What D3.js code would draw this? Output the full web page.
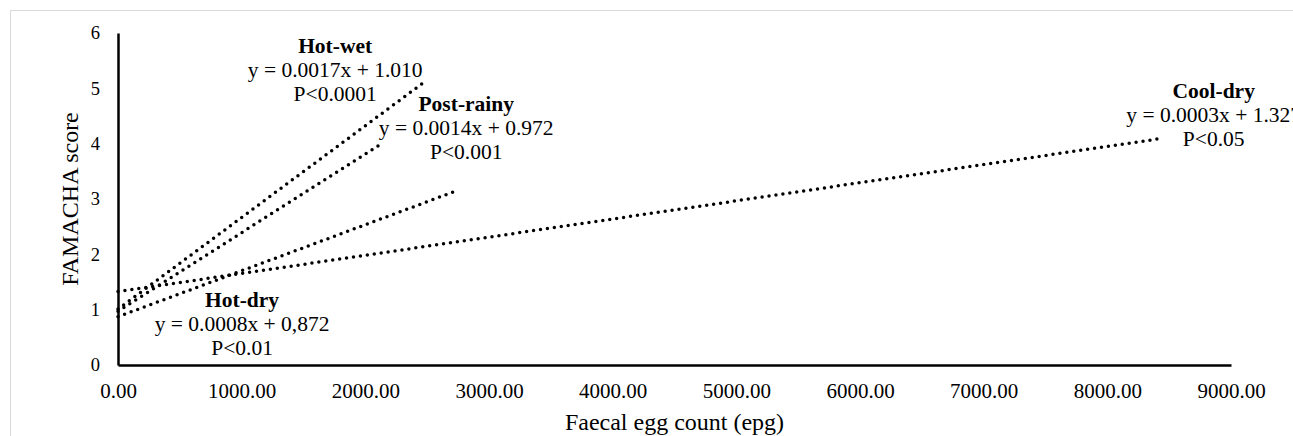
<!DOCTYPE html>
<html>
<head>
<meta charset="utf-8">
<script src="https://cdn.jsdelivr.net/npm/d3@7"></script>
<style>
  html, body { margin: 0; padding: 0; background: #fff; }
  svg, svg text { font-family: "Times New Roman", "Liberation Serif", Times, serif; }
</style>
</head>
<body>
<svg id="chart" width="1293" height="436"></svg>
<script>
// Seasons and their fitted lines (start / end of each trend line)
const seasons = ["Hot-wet", "Post-rainy", "Hot-dry", "Cool-dry"];
const startFec = [0, 0, 0, 0];
const startScore = [1.010, 0.972, 0.872, 1.327];
const endFec = [2468, 2104, 2751, 8455];
const endScore = [5.10, 3.96, 3.16, 4.10];
const equations = [
    "y = 0.0017x + 1.010",
    "y = 0.0014x + 0.972",
    "y = 0.0008x + 0,872",
    "y = 0.0003x + 1.327"
];
const pValues = ["P<0.0001", "P<0.001", "P<0.01", "P<0.05"];

// Axis ticks
const xTicks = [0, 1000, 2000, 3000, 4000, 5000, 6000, 7000, 8000, 9000];
const yTicks = [0, 1, 2, 3, 4, 5, 6];

// Where each label block sits (data units: centre x, first baseline y)
const labelAt = [[1756, 5.64], [2816, 4.59], [1003, 1.05], [8860, 4.83]];

const serif = '"Times New Roman", "Liberation Serif", Times, serif';
const svg = d3.select("#chart");

// Chart area border (runs off the right and bottom edges)
svg.append("rect")
    .attr("x", 10.5).attr("y", 10.5)
    .attr("width", 1300).attr("height", 440)
    .attr("fill", "none")
    .attr("stroke", "#d9d9d9")
    .attr("stroke-width", 1);

const x = d3.scaleLinear().domain([0, 9000]).range([118, 1231]);
const y = d3.scaleLinear().domain([0, 6]).range([365, 33]);

// X axis
const gx = svg.append("g")
    .attr("transform", `translate(0,${y(0)})`)
    .call(d3.axisBottom(x)
        .tickValues(xTicks)
        .tickFormat(d3.format(".2f"))
        .tickSize(0)
        .tickSizeOuter(0));
gx.attr("font-family", serif);
gx.select(".domain").attr("stroke", "#000").attr("stroke-width", 2.5);
gx.selectAll(".tick text")
    .attr("y", 33).attr("dy", null)
    .style("font-size", "21px")
    .attr("fill", "#000");

// Y axis
const gy = svg.append("g")
    .attr("transform", `translate(${x(0)},0)`)
    .call(d3.axisLeft(y)
        .tickValues(yTicks)
        .tickFormat(d3.format("d"))
        .tickSize(0)
        .tickSizeOuter(0)
        .tickPadding(18));
gy.attr("font-family", serif);
gy.select(".domain").attr("stroke", "#000").attr("stroke-width", 2.5);
gy.selectAll(".tick text")
    .style("font-size", "18.5px")
    .attr("fill", "#000");

// Axis titles
svg.append("text")
    .attr("x", (x.range()[0] + x.range()[1]) / 2)
    .attr("y", 430)
    .attr("text-anchor", "middle")
    .style("font-size", "24px")
    .text("Faecal egg count (epg)");

svg.append("text")
    .attr("transform", `translate(78,${(y.range()[0] + y.range()[1]) / 2}) rotate(-90)`)
    .attr("text-anchor", "middle")
    .style("font-size", "24px")
    .text("FAMACHA score");

// Dotted trend lines
const line = d3.line().x(d => x(d[0])).y(d => y(d[1]));
seasons.forEach((s, i) => {
    svg.append("path")
        .datum([[startFec[i], startScore[i]], [endFec[i], endScore[i]]])
        .attr("d", line)
        .attr("fill", "none")
        .attr("stroke", "#000")
        .attr("stroke-width", 3.5)
        .attr("stroke-linecap", "round")
        .attr("stroke-dasharray", "0 7");
});

// Labels: season, equation, significance
seasons.forEach((s, i) => {
    const cx = x(labelAt[i][0]);
    const by = y(labelAt[i][1]);
    const t = svg.append("text")
        .attr("text-anchor", "middle")
        .style("font-size", "21.5px");
    t.append("tspan").attr("x", cx).attr("y", by)
        .style("font-weight", "bold").text(s);
    t.append("tspan").attr("x", cx).attr("y", by + 24).text(equations[i]);
    t.append("tspan").attr("x", cx).attr("y", by + 48).text(pValues[i]);
});
</script>
</body>
</html>
